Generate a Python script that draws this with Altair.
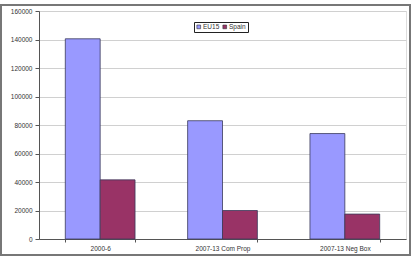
import altair as alt
import pandas as pd

categories = ["2000-6", "2007-13 Com Prop", "2007-13 Neg Box"]
series = ["EU15", "Spain"]
eu15 = [140500, 83000, 74000]
spain = [41500, 20000, 17500]
y_ticks = [0, 20000, 40000, 60000, 80000, 100000, 120000, 140000, 160000]

rows = []
for c, a, b in zip(categories, eu15, spain):
    rows.append({"period": c, "series": "EU15", "value": a})
    rows.append({"period": c, "series": "Spain", "value": b})
df = pd.DataFrame(rows)

W, H = 367, 228
FONT = "Liberation Sans"
TXT = "#333"

bars = alt.Chart(df).mark_bar(stroke="#3a3a5a", strokeWidth=0.8).encode(
    x=alt.X("period:N", sort=categories, title=None,
            scale=alt.Scale(paddingInner=0.43, paddingOuter=0.215),
            axis=alt.Axis(labelAngle=0, labelFontSize=6.5, labelFont=FONT, labelColor=TXT,
                          tickBand="extent", tickSize=3, tickColor="#555",
                          domainColor="#555", labelPadding=3)),
    xOffset=alt.XOffset("series:N", sort=series, scale=alt.Scale(paddingInner=0, paddingOuter=0)),
    y=alt.Y("value:Q", title=None,
            scale=alt.Scale(domain=[0, 160000], nice=False),
            axis=alt.Axis(values=y_ticks, format="d", labelFontSize=6.5, labelFont=FONT,
                          labelColor=TXT, tickSize=4, tickColor="#555",
                          domainColor="#555", gridColor="#d0d0d0", labelPadding=3)),
    color=alt.Color("series:N", sort=series, title=None,
                    scale=alt.Scale(domain=series, range=["#9999FF", "#993366"]),
                    legend=alt.Legend(orient="none", legendX=155, legendY=11,
                                      direction="horizontal", symbolType="square",
                                      symbolSize=14, symbolStrokeWidth=0.6,
                                      symbolStrokeColor="#333",
                                      labelFontSize=6.5, labelFont=FONT, labelColor=TXT,
                                      strokeColor="#222", fillColor="#fff",
                                      padding=1.5, columnPadding=2, labelOffset=1,
                                      symbolOffset=0)),
)

frame = alt.Chart(pd.DataFrame({"a": [0]})).mark_rect(
    fill=None, stroke="#777", strokeWidth=2
).encode(
    x=alt.value(-38), x2=alt.value(371), y=alt.value(-6), y2=alt.value(244)
)

chart = alt.layer(bars, frame).properties(
    width=W, height=H,
    padding={"left": 39, "top": 11, "right": 8, "bottom": 18},
    autosize=alt.AutoSizeParams(type="none"),
).configure_view(stroke="#c8c8c8", strokeWidth=1).configure(background="white")

chart.save("out.html", embed_options={"renderer": "svg", "actions": False})
